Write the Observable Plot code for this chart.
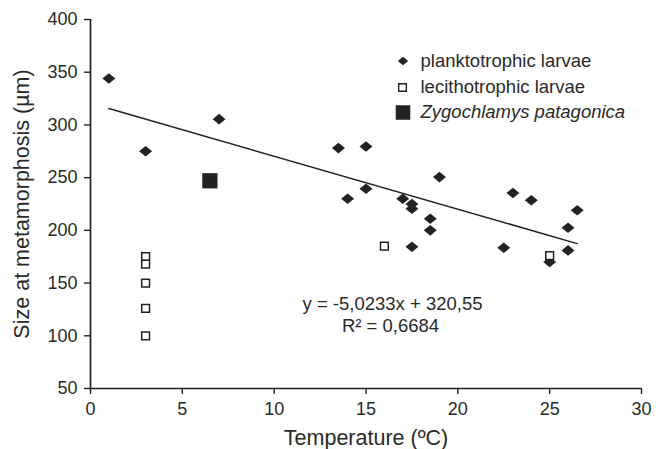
<!DOCTYPE html>
<html><head><meta charset="utf-8">
<script src="https://cdn.jsdelivr.net/npm/d3@7"></script>
<script src="https://cdn.jsdelivr.net/npm/@observablehq/plot@0.6"></script>
<style>
body{margin:0;background:#fff}
svg{font-family:"Liberation Sans",Arial,sans-serif}
</style>
</head><body><div id="chart"></div>
<script>
// Planktotrophic larvae (filled diamonds)
const planktoTemp = [1, 3, 7, 13.5, 15, 14, 15, 17, 17.5, 17.5, 19, 18.5, 18.5, 17.5, 22.5, 23, 24, 26.5, 26, 26, 25];
const planktoSize = [344, 275, 305.5, 278, 279.5, 230, 239.5, 230, 225, 220.5, 250.5, 211, 200, 184.5, 183.5, 235.5, 228.5, 219, 202.5, 181, 170];
// Lecithotrophic larvae (open squares)
const lecithoTemp = [3, 3, 3, 3, 3, 16, 25];
const lecithoSize = [175, 168, 150, 126, 100, 185, 176];
// Zygochlamys patagonica (large filled square)
const zygoTemp = [6.5];
const zygoSize = [247];
// Regression line y = -5,0233x + 320,55
const regSlope = -5.0233;
const regIntercept = 320.55;
const regRange = [1, 26.5];
const equationLines = ["y = -5,0233x + 320,55", "R\u00B2 = 0,6684"];
// Axes
const xTicks = [0, 5, 10, 15, 20, 25, 30];
const yTicks = [50, 100, 150, 200, 250, 300, 350, 400];
const xTitle = "Temperature (\u00BAC)";
const yTitle = "Size at metamorphosis (\u00B5m)";
const legendLabels = ["planktotrophic larvae", "lecithotrophic larvae", "Zygochlamys patagonica"];

const plankto = planktoTemp.map((t, i) => ({t, s: planktoSize[i]}));
const lecitho = lecithoTemp.map((t, i) => ({t, s: lecithoSize[i]}));
const zygo = zygoTemp.map((t, i) => ({t, s: zygoSize[i]}));
const regLine = regRange.map(t => ({t, s: regSlope * t + regIntercept}));

const wideDiamond = {
  draw(ctx, size) {
    const r = Math.sqrt(size / Math.PI);
    const w = r * 1.08, h = r * 0.88;
    ctx.moveTo(0, -h); ctx.lineTo(w, 0); ctx.lineTo(0, h); ctx.lineTo(-w, 0); ctx.closePath();
  }
};

const ink = "#222";
const txt = "#2a2a2a";
const chart = Plot.plot({
  width: 663,
  height: 449,
  marginLeft: 90,
  marginRight: 22,
  marginTop: 19,
  marginBottom: 61,
  x: {domain: [0, 30]},
  y: {domain: [50, 400]},
  style: {fontFamily: "'Liberation Sans', Arial, sans-serif", background: "#fff", color: ink},
  marks: [
    Plot.axisX({ticks: xTicks, tickSize: 6, tickPadding: 8, fontSize: 18, label: null, stroke: ink, strokeWidth: 1.4, fill: txt}),
    Plot.axisY({ticks: yTicks, tickSize: 6, tickPadding: 7, fontSize: 18, label: null, stroke: ink, strokeWidth: 1.4, fill: txt}),
    Plot.ruleX([0], {stroke: ink, strokeWidth: 1.7}),
    Plot.ruleY([50], {stroke: ink, strokeWidth: 1.7}),
    Plot.line(regLine, {x: "t", y: "s", stroke: ink, strokeWidth: 1.5}),
    Plot.dot(plankto, {x: "t", y: "s", symbol: wideDiamond, r: 6, fill: ink, stroke: "none"}),
    Plot.dot(lecitho, {x: "t", y: "s", symbol: "square", r: 4.4, fill: "#fff", stroke: ink, strokeWidth: 1.5}),
    Plot.dot(zygo, {x: "t", y: "s", symbol: "square", r: 8.6, fill: ink, stroke: "none"}),
    // axis titles
    Plot.text([xTitle], {frameAnchor: "bottom", dy: 50, fontSize: 21.5, fill: txt, textAnchor: "middle", lineAnchor: "middle"}),
    Plot.text([yTitle], {frameAnchor: "left", dx: -68, rotate: -90, fontSize: 21.5, fill: txt, textAnchor: "middle", lineAnchor: "middle"}),
    // equation
    Plot.text([equationLines[0]], {frameAnchor: "top-left", dx: 302, dy: 285, fontSize: 18.5, fill: txt, textAnchor: "middle", lineAnchor: "middle"}),
    Plot.text([equationLines[1]], {frameAnchor: "top-left", dx: 300, dy: 307, fontSize: 18.5, fill: txt, textAnchor: "middle", lineAnchor: "middle"}),
    // legend
    Plot.dot([0], {frameAnchor: "top-left", dx: 312.5, dy: 41.5, symbol: wideDiamond, r: 4.8, fill: ink}),
    Plot.dot([0], {frameAnchor: "top-left", dx: 312, dy: 68, symbol: "square", r: 4.3, fill: "#fff", stroke: ink, strokeWidth: 1.4}),
    Plot.dot([0], {frameAnchor: "top-left", dx: 312.5, dy: 93, symbol: "square", r: 8.2, fill: ink}),
    Plot.text([legendLabels[0]], {frameAnchor: "top-left", dx: 330, dy: 41.5, textAnchor: "start", fontSize: 18.5, fill: txt, lineAnchor: "middle"}),
    Plot.text([legendLabels[1]], {frameAnchor: "top-left", dx: 330, dy: 68, textAnchor: "start", fontSize: 18.5, fill: txt, lineAnchor: "middle"}),
    Plot.text([legendLabels[2]], {frameAnchor: "top-left", dx: 330, dy: 93, textAnchor: "start", fontSize: 18.5, fill: txt, lineAnchor: "middle", fontStyle: "italic"})
  ]
});
document.getElementById("chart").appendChild(chart);
</script>
</body></html>
